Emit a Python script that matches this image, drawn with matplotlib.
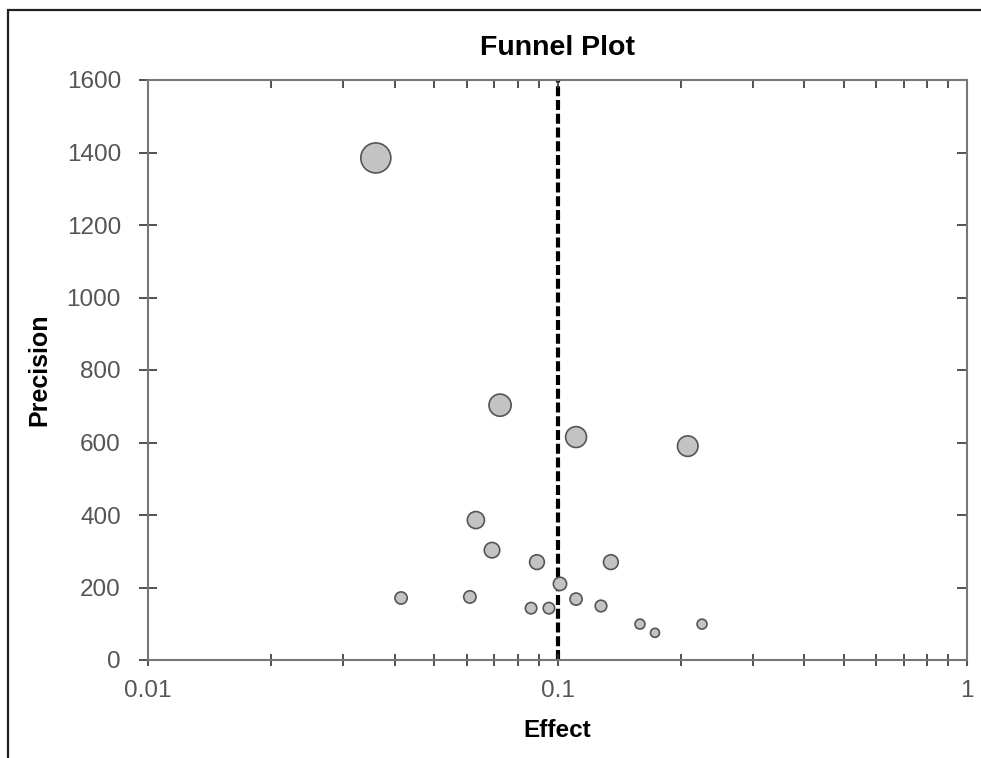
import matplotlib

matplotlib.use("Agg")
import numpy as np
from matplotlib import pyplot as plt
from matplotlib import ticker
from matplotlib.patches import Rectangle

plt.rcParams["font.family"] = ["Liberation Sans", "DejaVu Sans"]

# study effects and precisions
effect = [
    0.0360, 0.0724, 0.111, 0.208, 0.0632, 0.0692, 0.0891, 0.135, 0.1014,
    0.0415, 0.0611, 0.0862, 0.0953, 0.111, 0.1277, 0.159, 0.173, 0.2254,
]
precision = [
    1385, 703, 615, 590, 386, 303, 270, 270, 210,
    171, 174, 143, 143, 168, 149, 99, 75, 99,
]
pooled_effect = 0.1

x_ticks = [0.01, 0.1, 1]
y_ticks = [0, 200, 400, 600, 800, 1000, 1200, 1400, 1600]


def marker_area(p):
    # bubble diameter grows with sqrt(precision)
    diam_px = 2.6 + 0.737 * np.sqrt(np.asarray(p, dtype=float))
    return (diam_px * 0.72) ** 2


fig = plt.figure(figsize=(9.81, 7.58), dpi=100)
ax = fig.add_axes([148 / 981, 1 - 660 / 758, 819 / 981, 580 / 758])

# outer frame (only left/top edges are visible in the original)
fig.patches.append(
    Rectangle((8 / 981, -0.1), 1.2, 1 - 10 / 758 + 0.1,
              transform=fig.transFigure, fill=False,
              edgecolor="#222222", linewidth=1.6, zorder=0)
)

ax.axvline(pooled_effect, color="black", linewidth=3,
           dashes=(2.4, 0.9), zorder=1)
ax.scatter(effect, precision, s=marker_area(precision), facecolor="#c3c3c3",
           edgecolor="#555555", linewidth=1.2, zorder=3)

ax.set_xscale("log")
ax.set_xlim(0.01, 1)
ax.set_ylim(0, 1600)
ax.set_xticks(x_ticks)
ax.xaxis.set_major_formatter(ticker.FuncFormatter(lambda v, pos: f"{v:g}"))
ax.xaxis.set_minor_locator(ticker.LogLocator(base=10, subs=np.arange(2, 10)))
ax.xaxis.set_minor_formatter(ticker.NullFormatter())
ax.set_yticks(y_ticks)

for side in ["left", "right", "top", "bottom"]:
    ax.spines[side].set_color("#777777")
    ax.spines[side].set_linewidth(1.5)

ax.tick_params(axis="both", which="both", colors="#333333",
               labelcolor="#555555", labelsize=17.5, width=1.2)
ax.tick_params(axis="y", which="major", direction="inout", length=13,
               pad=13, right=True)
ax.tick_params(axis="x", which="major", direction="inout", length=9,
               pad=10, top=True)
ax.tick_params(axis="x", which="minor", direction="inout", length=8, top=True)

# top and right ticks point inward only
for t in ax.xaxis.get_major_ticks() + ax.xaxis.get_minor_ticks():
    t.tick2line.set_marker(3)
    t.tick2line.set_markersize(6)
for t in ax.yaxis.get_major_ticks():
    t.tick2line.set_marker(0)
    t.tick2line.set_markersize(7)

ax.set_title("Funnel Plot", fontsize=20.5, fontweight="bold", y=1.0, pad=18)
ax.set_xlabel("Effect", fontsize=17.5, fontweight="bold", labelpad=12)
ax.set_ylabel("Precision", fontsize=18, fontweight="bold", labelpad=11)

fig.savefig("out.png", dpi=100)
